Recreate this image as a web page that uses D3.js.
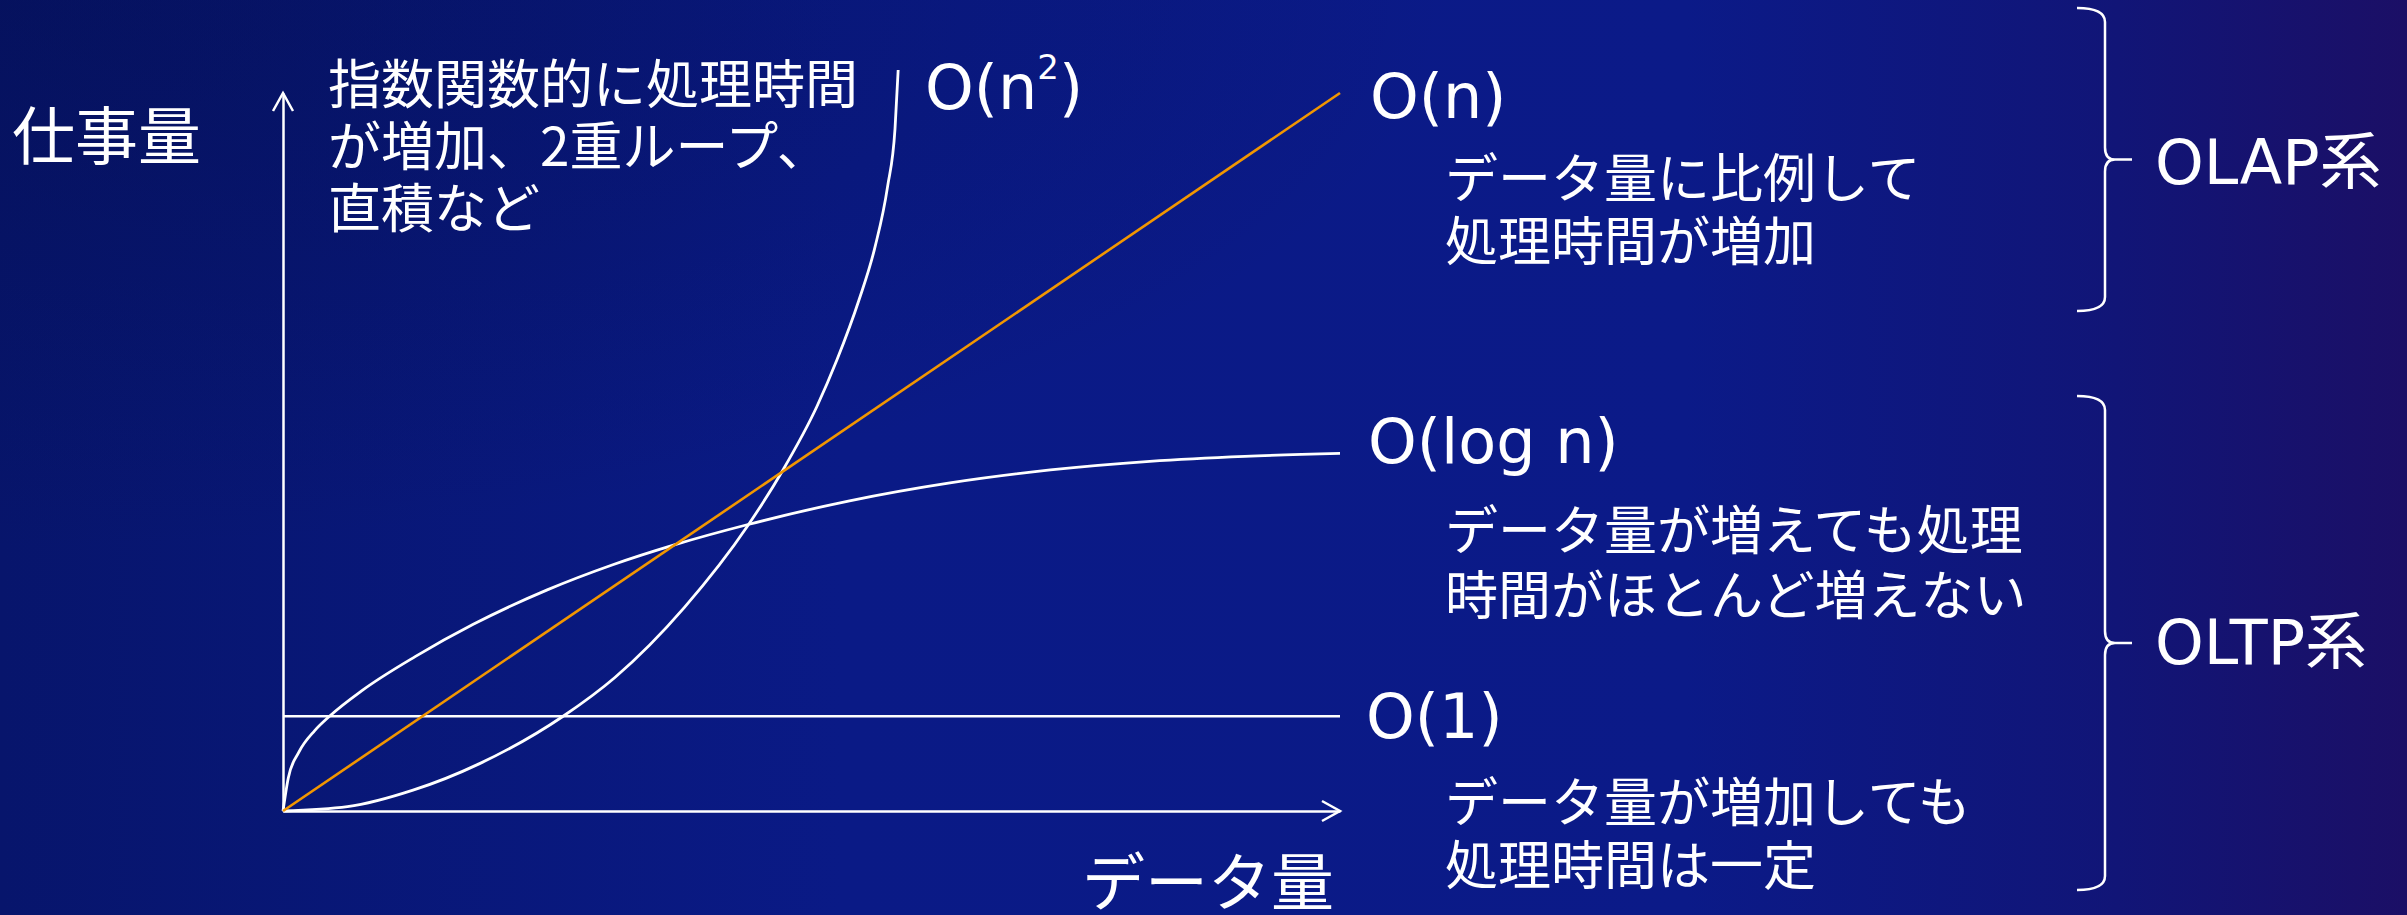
<!DOCTYPE html>
<html><head><meta charset="utf-8">
<script src="https://cdn.jsdelivr.net/npm/d3@7"></script>
<style>html,body{margin:0;padding:0;background:#0a1a80;overflow:hidden}</style>
</head><body><svg id="chart" width="2407" height="915"></svg>
<script>
// ---- data (x: データ量 0..100, y: 仕事量 0..100) ----
const linearX = [0, 100];
const linearY = [0, 100];
const constantX = [0, 100];
const constantY = [13.2, 13.2];
const logX = [0, 0.5, 1.5, 3, 4.4, 7.5, 12.5, 18, 25, 31.2, 37.1, 44, 53.6, 63.1, 72.6, 82, 91, 100];
const logY = [0, 4.6, 8.2, 11.2, 13.2, 16.8, 21.5, 26.0, 30.8, 34.3, 37.1, 39.9, 43.2, 45.7, 47.5, 48.7, 49.4, 49.8];
const quadX = [0, 6.1, 12.3, 18.6, 26.5, 31.4, 38.0, 44.0, 47.3, 50.5, 52.4, 54.5, 56.0, 57.2, 57.9, 58.2];
const quadY = [0, 0.6, 2.9, 6.6, 13.2, 18.6, 28.4, 39.8, 47.5, 56.3, 62.8, 71.2, 78.5, 87.0, 95.0, 103.2];
const seriesLabels = ["O(n", "O(n)", "O(log n)", "O(1)"];
const axisLabels = ["仕事量", "データ量"];
const quadNote = ["指数関数的に処理時間", "が増加、2重ループ、", "直積など"];
const linearNote = ["データ量に比例して", "処理時間が増加"];
const logNote = ["データ量が増えても処理", "時間がほとんど増えない"];
const constNote = ["データ量が増加しても", "処理時間は一定"];
const groupLabels = ["OLAP系", "OLTP系"];

const toPts = (xs, ys) => xs.map((v, i) => [v, ys[i]]);

const svg = d3.select("#chart");
const W = 2407, H = 915;

// background
const defs = svg.append("defs");
const lg = defs.append("linearGradient").attr("id", "bg").attr("x1", 0).attr("y1", 0).attr("x2", 1).attr("y2", 0);
[[0, "#07156c"], [0.35, "#0a1a86"], [0.7, "#0b1a88"], [0.88, "#111577"], [1, "#1b0f66"]]
  .forEach(([o, c]) => lg.append("stop").attr("offset", o).attr("stop-color", c));
const rg = defs.append("radialGradient").attr("id", "bg2").attr("cx", 0).attr("cy", 0).attr("r", 0.6);
rg.append("stop").attr("offset", 0).attr("stop-color", "#040e50").attr("stop-opacity", 0.5);
rg.append("stop").attr("offset", 1).attr("stop-color", "#040e50").attr("stop-opacity", 0);
svg.append("rect").attr("width", W).attr("height", H).attr("fill", "url(#bg)");
svg.append("rect").attr("width", W).attr("height", H).attr("fill", "url(#bg2)");

// scales
const x = d3.scaleLinear().domain([0, 100]).range([283, 1340]);
const y = d3.scaleLinear().domain([0, 100]).range([811, 93]);

const white = "#ffffff";
const orange = "#f29600";

// axes
svg.append("g").attr("transform", `translate(0,${y(0)})`)
  .call(d3.axisBottom(x).tickValues([]).tickSizeOuter(0));
svg.append("g").attr("transform", `translate(${x(0)},0)`)
  .call(d3.axisLeft(y).tickValues([]).tickSizeOuter(0));
svg.selectAll(".domain").attr("stroke", white).attr("stroke-width", 2.5);

// arrow heads
const ah = 18, aw = 10;
svg.append("path").attr("fill", "none").attr("stroke", white).attr("stroke-width", 2.5)
  .attr("d", `M${x(100) - ah},${y(0) - aw}L${x(100)},${y(0)}L${x(100) - ah},${y(0) + aw}`);
svg.append("path").attr("fill", "none").attr("stroke", white).attr("stroke-width", 2.5)
  .attr("d", `M${x(0) - aw},${y(100) + ah}L${x(0)},${y(100)}L${x(0) + aw},${y(100) + ah}`);

// lines
const line = d3.line().x(d => x(d[0])).y(d => y(d[1]));
const curve = d3.line().x(d => x(d[0])).y(d => y(d[1])).curve(d3.curveMonotoneX);

svg.append("path").datum(toPts(constantX, constantY)).attr("d", line)
  .attr("fill", "none").attr("stroke", white).attr("stroke-width", 2.5);
svg.append("path").datum(toPts(logX, logY)).attr("d", curve)
  .attr("fill", "none").attr("stroke", white).attr("stroke-width", 2.8);
svg.append("path").datum(toPts(quadX, quadY)).attr("d", curve)
  .attr("fill", "none").attr("stroke", white).attr("stroke-width", 2.8);
svg.append("path").datum(toPts(linearX, linearY)).attr("d", line)
  .attr("fill", "none").attr("stroke", orange).attr("stroke-width", 2.6);

// text helpers
const jp = "'Noto Sans CJK JP', 'Noto Sans CJK SC', sans-serif";
const lat = "'DejaVu Sans', 'Noto Sans CJK JP', sans-serif";
function txt(s, px, py, size, fam) {
  return svg.append("text").attr("x", px).attr("y", py).attr("fill", white)
    .attr("font-size", size).attr("font-family", fam).attr("dominant-baseline", "central").text(s);
}
function lines(arr, px, py0, dy, size) {
  arr.forEach((s, i) => txt(s, px, py0 + i * dy, size, jp));
}

// axis labels
txt(axisLabels[0], 12, 131, 63, jp);
txt(axisLabels[1], 1082, 877, 63, jp);

// series labels
const tq = txt(seriesLabels[0], 925, 87, 62, lat);
tq.append("tspan").attr("font-size", 34).attr("dy", -20).text("2");
tq.append("tspan").attr("dy", 20).text(")");
txt(seriesLabels[1], 1370, 96, 62, lat);
txt(seriesLabels[2], 1368, 441, 62, lat);
txt(seriesLabels[3], 1366, 716, 62, lat);

// notes
lines(quadNote, 328, 81, 62, 53);
lines(linearNote, 1445, 175, 63, 53);
lines(logNote, 1445, 527, 65, 53);
lines(constNote, 1445, 799, 63, 53);

// brackets
function bracket(top, bot, xv) {
  const mid = (top + bot) / 2, x0 = xv - 28, tip = xv + 27;
  const p = d3.path();
  p.moveTo(x0, top);
  p.quadraticCurveTo(xv, top, xv, top + 14);
  p.lineTo(xv, mid - 12);
  p.quadraticCurveTo(xv, mid, xv + 10, mid);
  p.lineTo(tip, mid);
  p.moveTo(xv + 10, mid);
  p.quadraticCurveTo(xv, mid, xv, mid + 12);
  p.lineTo(xv, bot - 14);
  p.quadraticCurveTo(xv, bot, x0, bot);
  svg.append("path").attr("d", p.toString()).attr("fill", "none")
    .attr("stroke", white).attr("stroke-width", 2.5);
}
bracket(8, 311, 2105);
bracket(396, 890, 2105);
txt(groupLabels[0], 2155, 162, 62, lat);
txt(groupLabels[1], 2155, 642, 62, lat);
</script></body></html>
